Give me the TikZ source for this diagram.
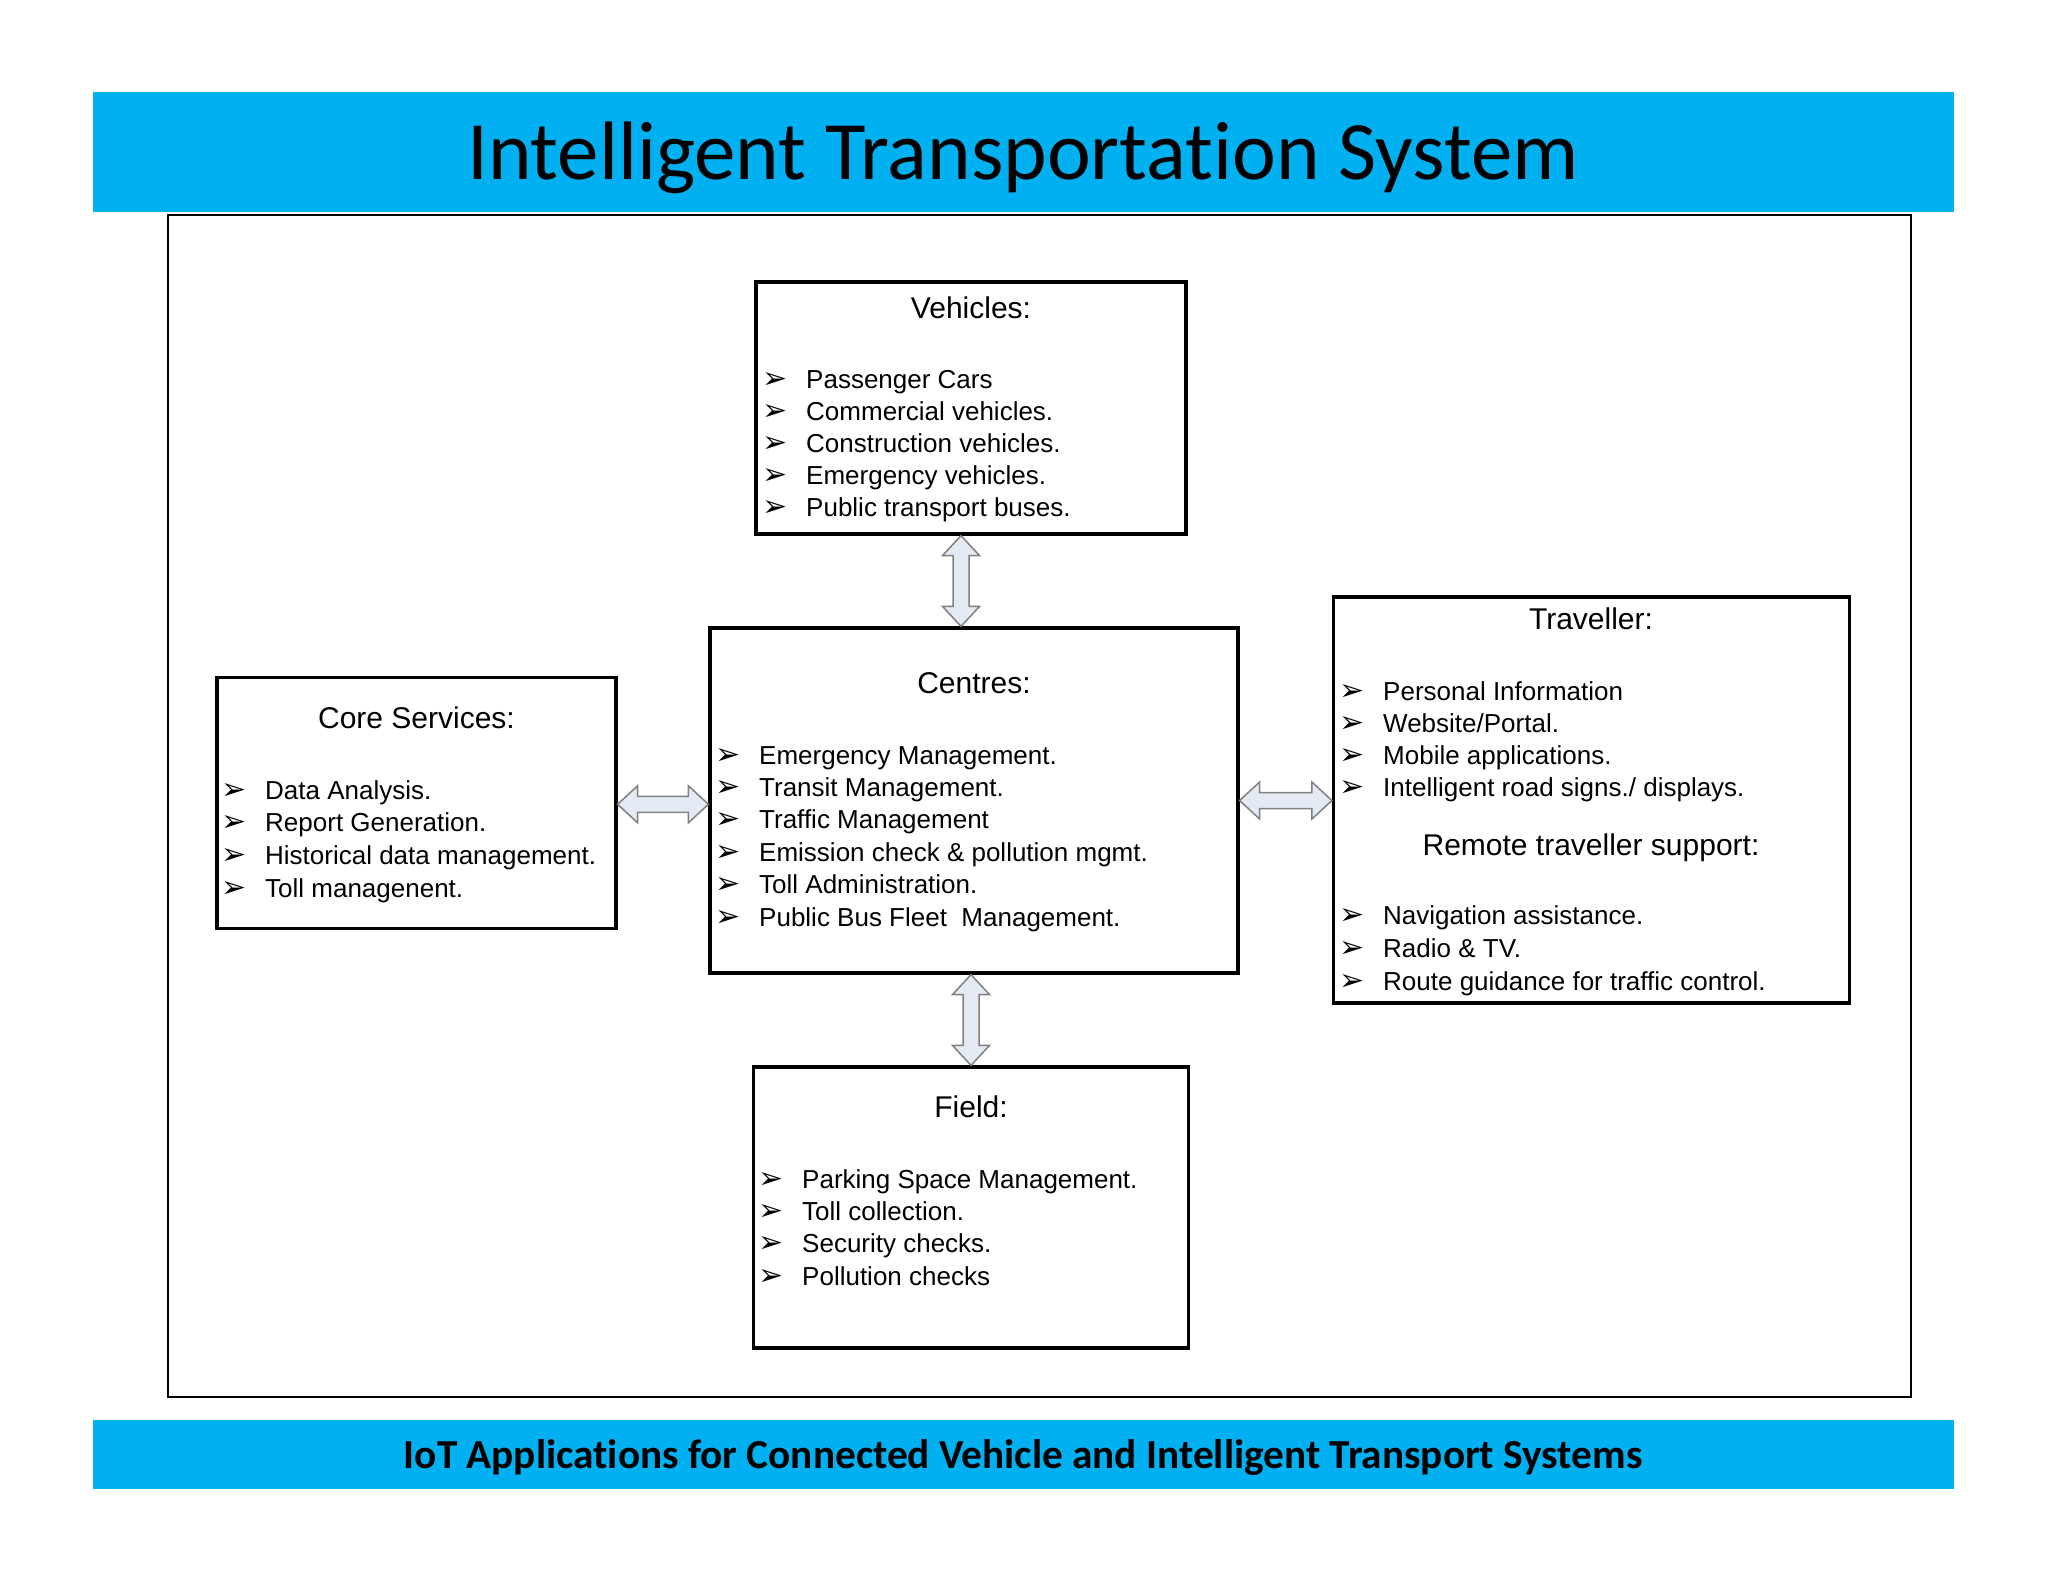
\documentclass[tikz,border=0pt]{standalone}
\usepackage{fontspec}
\setmainfont{Liberation Sans}
\newfontfamily\calibri[Ligatures={NoCommon,NoContextual,NoRare}]{Carlito}
\newfontfamily\dejavu{DejaVu Sans}
\usetikzlibrary{calc}
\definecolor{barblue}{HTML}{00B0F0}
\definecolor{arrfill}{HTML}{E3EAF4}
\definecolor{arrline}{HTML}{808080}
\newcommand\dblV[3]{\draw[blockarrow] let \p1=(#1), \p2=(#2) in
 (\x1#3,\y1) -- (\x1#3+18.5pt,\y1-20pt) -- (\x1#3+8pt,\y1-20pt) -- (\x1#3+8pt,\y2+20pt) -- (\x1#3+18.5pt,\y2+20pt) -- (\x1#3,\y2) -- (\x1#3-18.5pt,\y2+20pt) -- (\x1#3-8pt,\y2+20pt) -- (\x1#3-8pt,\y1-20pt) -- (\x1#3-18.5pt,\y1-20pt) -- cycle;}
\newcommand\dblH[3]{\draw[blockarrow] let \p1=(#1), \p2=(#2) in
 (\x1,\y1#3) -- (\x1+20pt,\y1#3+18.5pt) -- (\x1+20pt,\y1#3+8pt) -- (\x2-20pt,\y1#3+8pt) -- (\x2-20pt,\y1#3+18.5pt) -- (\x2,\y1#3) -- (\x2-20pt,\y1#3-18.5pt) -- (\x2-20pt,\y1#3-8pt) -- (\x1+20pt,\y1#3-8pt) -- (\x1+20pt,\y1#3-18.5pt) -- cycle;}
\begin{document}
\begin{tikzpicture}[x=1pt,y=-1pt,
 box/.style={draw=black, line width=3.2pt, fill=white, inner sep=0pt},
 hd/.style={font=\fontsize{30}{30}\selectfont, anchor=base, inner sep=0pt},
 item/.style={font=\fontsize{26}{26}\selectfont, anchor=base west, inner sep=0pt},
 bul/.style={font=\dejavu\fontsize{30}{30}\selectfont, anchor=base, inner sep=0pt},
 blockarrow/.style={draw=arrline, line width=1.5pt, fill=arrfill, line join=miter}]
\useasboundingbox (0,0) rectangle (2048,1582);
\fill[white] (0,0) rectangle (2048,1582);
% bars
\fill[barblue] (93,92) rectangle (1954,212);
\node[font=\calibri\fontsize{83}{83}\selectfont, inner sep=0pt] (title) at (1023,158) {Intelligent Transportation System};
\fill[barblue] (93,1420) rectangle (1954,1489);
\node[font=\calibri\bfseries\fontsize{41.3}{41.3}\selectfont, inner sep=0pt] (foot) at (1023,1457.5) {IoT Applications for Connected Vehicle and Intelligent Transport Systems};
% frame
\draw[line width=2.8pt] (168,215) rectangle (1911,1397);
% boxes
\node[box, minimum width=430, minimum height=252] (veh) at (971,408) {};
\node[box, minimum width=528, minimum height=345] (cen) at (974,800.5) {};
\node[box, minimum width=399, minimum height=251] (core) at (416.5,803.3) {};
\node[box, minimum width=516, minimum height=406] (trav) at (1591.5,800) {};
\node[box, minimum width=435, minimum height=281] (field) at (971,1207.5) {};
% arrows
\dblV{veh.south}{cen.north}{-10pt}
\dblV{cen.south}{field.north}{-3pt}
\dblH{core.east}{cen.west}{-1pt}
\dblH{cen.east}{trav.west}{+0pt}
% Vehicles
\node[hd] (vh) at (971,318) {Vehicles:};
\foreach \t [count=\i] in {Passenger Cars,Commercial vehicles.,Construction vehicles.,Emergency vehicles.,Public transport buses.}{
 \node[item] (v\i) at (806,{388+32.2*(\i-1)}) {\t};
 \node[bul] (vb\i) at (775,{388+32.2*(\i-1)}) {➢};}
% Centres
\node[hd] (ch) at (974,693) {Centres:};
\foreach \t [count=\i] in {Emergency Management.,Transit Management.,Traffic Management,Emission check \& pollution mgmt.,Toll Administration.,Public Bus Fleet\ \ Management.}{
 \node[item] (c\i) at (759,{764+32.4*(\i-1)}) {\t};
 \node[bul] (cb\i) at (728,{764+32.4*(\i-1)}) {➢};}
% Core
\node[hd] (kh) at (416.5,728.5) {Core Services:};
\foreach \t [count=\i] in {Data Analysis.,Report Generation.,Historical data management.,Toll managenent.}{
 \node[item] (k\i) at (265,{799+32.7*(\i-1)}) {\t};
 \node[bul] (kb\i) at (234,{799+32.7*(\i-1)}) {➢};}
% Traveller
\node[hd] (th) at (1591,629) {Traveller:};
\foreach \t [count=\i] in {Personal Information,Website/Portal.,Mobile applications.,Intelligent road signs./ displays.}{
 \node[item] (t\i) at (1383,{700+32.2*(\i-1)}) {\t};
 \node[bul] (tb\i) at (1352,{700+32.2*(\i-1)}) {➢};}
\node[hd] (rh) at (1591,855) {Remote traveller support:};
\foreach \t [count=\i] in {Navigation assistance.,Radio \& TV.,Route guidance for traffic control.}{
 \node[item] (r\i) at (1383,{924.6+32.7*(\i-1)}) {\t};
 \node[bul] (rb\i) at (1352,{924.6+32.7*(\i-1)}) {➢};}
% Field
\node[hd] (fh) at (971,1117.5) {Field:};
\foreach \t [count=\i] in {Parking Space Management.,Toll collection.,Security checks.,Pollution checks}{
 \node[item] (f\i) at (802,{1188.4+32.2*(\i-1)}) {\t};
 \node[bul] (fb\i) at (771,{1188.4+32.2*(\i-1)}) {➢};}
\end{tikzpicture}
\end{document}
